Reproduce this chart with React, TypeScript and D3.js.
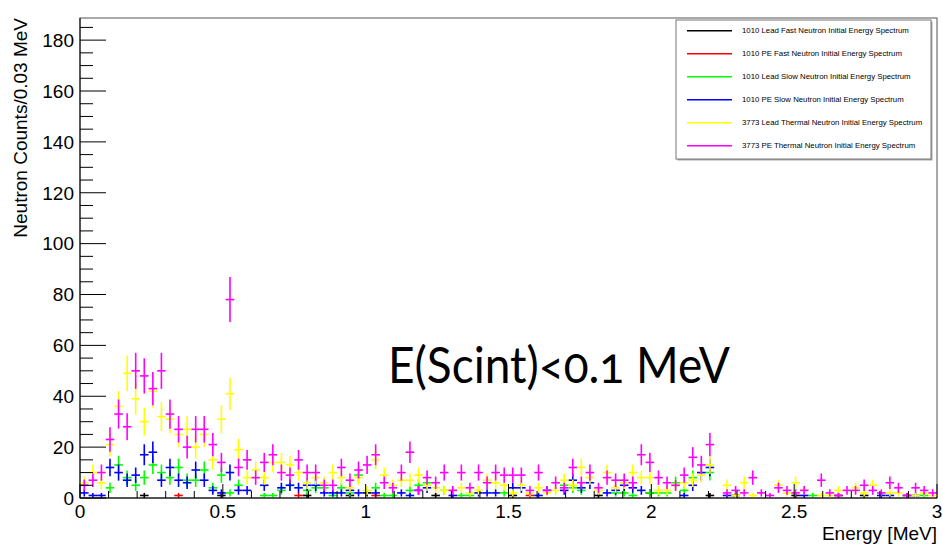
import React from "react";
import * as d3 from "d3";

const xRange = [0, 3];
const binWidth = 0.03;
const yMax = 188.7;

const xTicks = [0, 0.5, 1, 1.5, 2, 2.5, 3];
const xTickLabels = ["0", "0.5", "1", "1.5", "2", "2.5", "3"];
const yTicks = [0, 20, 40, 60, 80, 100, 120, 140, 160, 180];

const seriesNames = [
  "1010 Lead Fast Neutron Initial Energy Spectrum",
  "1010 PE Fast Neutron Initial Energy Spectrum",
  "1010 Lead Slow Neutron Initial Energy Spectrum",
  "1010 PE Slow Neutron Initial Energy Spectrum",
  "3773 Lead Thermal Neutron Initial Energy Spectrum",
  "3773 PE Thermal Neutron Initial Energy Spectrum",
];
const seriesColors = ["#000000", "#ff0000", "#00ff00", "#0000ff", "#ffff00", "#ff00ff"];

const leadFast = [
  0, 0, 0, 0, 0, 0, 0, 1, 0, 0,
  0, 0, 0, 0, 0, 0, 1, 0, 0, 0,
  0, 0, 0, 0, 0, 0, 1, 0, 0, 0,
  0, 1, 0, 2, 0, 0, 0, 0, 0, 0,
  0, 1, 0, 0, 0, 0, 0, 0, 0, 0,
  1, 0, 0, 0, 0, 0, 0, 0, 0, 0,
  1, 0, 0, 0, 0, 0, 2, 0, 0, 0,
  0, 0, 0, 1, 0, 0, 1, 0, 0, 0,
  0, 0, 0, 1, 0, 0, 0, 0, 1, 0,
  0, 1, 0, 0, 0, 0, 1, 0, 0, 0,
];
const peFast = [
  0, 0, 0, 0, 0, 0, 0, 0, 0, 0,
  0, 1, 0, 0, 0, 0, 0, 0, 0, 0,
  0, 0, 0, 0, 0, 1, 0, 0, 0, 0,
  0, 0, 0, 0, 1, 0, 0, 0, 0, 0,
  0, 0, 0, 0, 0, 0, 0, 0, 0, 0,
  0, 0, 1, 0, 0, 0, 0, 0, 0, 0,
  0, 0, 0, 0, 0, 0, 0, 0, 0, 0,
  0, 0, 0, 0, 0, 0, 0, 0, 0, 0,
  0, 0, 0, 0, 0, 0, 0, 0, 0, 0,
  0, 0, 0, 0, 0, 0, 0, 0, 0, 0,
];
const leadSlow = [
  0, 0, 0, 4, 13, 8, 5, 8, 13, 10,
  8, 12, 7, 7, 11, 4, 9, 2, 5, 0,
  0, 1, 1, 3, 5, 0, 3, 4, 4, 1,
  4, 2, 9, 0, 4, 1, 1, 0, 3, 5,
  6, 0, 3, 0, 1, 1, 0, 0, 0, 2,
  0, 0, 0, 0, 0, 0, 5, 4, 3, 0,
  0, 0, 2, 2, 1, 0, 2, 2, 2, 6,
  3, 8, 0, 10, 0, 0, 0, 0, 0, 0,
  0, 0, 0, 0, 0, 1, 0, 0, 0, 0,
  0, 0, 0, 0, 0, 0, 0, 0, 1, 0,
];
const peSlow = [
  2, 1, 1, 12, 10, 7, 9, 17, 18, 7,
  12, 7, 6, 11, 7, 3, 2, 10, 3, 3,
  0, 5, 0, 4, 5, 4, 5, 5, 2, 2,
  2, 3, 2, 0, 2, 0, 0, 2, 1, 3,
  4, 0, 0, 1, 0, 0, 2, 2, 2, 0,
  4, 4, 0, 1, 3, 0, 3, 7, 4, 6,
  0, 2, 3, 5, 4, 3, 0, 0, 0, 0,
  1, 5, 10, 12, 0, 1, 0, 0, 0, 0,
  0, 0, 0, 0, 1, 0, 0, 0, 0, 0,
  0, 0, 0, 1, 1, 0, 0, 1, 0, 0,
];
const leadThermal = [
  6, 10, 6, 21, 36, 49, 39, 30, 42, 32,
  31, 25, 27, 20, 25, 15, 31, 41, 19, 8,
  11, 8, 14, 14, 13, 10, 6, 8, 6, 10,
  8, 4, 8, 3, 15, 9, 5, 7, 7, 9,
  5, 4, 3, 3, 4, 2, 3, 7, 6, 5,
  2, 5, 2, 4, 2, 3, 7, 5, 12, 8,
  3, 10, 4, 6, 10, 8, 8, 3, 3, 5,
  6, 7, 9, 13, 0, 5, 1, 6, 1, 0,
  0, 5, 2, 6, 3, 0, 1, 1, 3, 0,
  4, 2, 5, 0, 2, 2, 0, 1, 2, 1,
];
const peThermal = [
  5, 7, 10, 23, 33, 28, 50, 48, 43, 50,
  33, 27, 20, 27, 27, 21, 14, 78, 12, 15,
  8, 14, 17, 10, 9, 15, 10, 10, 5, 5,
  12, 7, 11, 13, 17, 6, 4, 10, 18, 3,
  8, 6, 10, 3, 10, 4, 10, 6, 10, 9,
  9, 9, 3, 10, 3, 6, 4, 12, 6, 10,
  4, 8, 7, 7, 6, 17, 14, 8, 6, 5,
  9, 16, 13, 21, 0, 2, 3, 2, 8, 2,
  1, 4, 3, 2, 3, 0, 7, 2, 1, 3,
  3, 5, 3, 2, 6, 4, 1, 4, 3, 2,
];

const seriesData = [leadFast, peFast, leadSlow, peSlow, leadThermal, peThermal];

const W = 943;
const H = 548;
const L = 80, R = 937, T = 18, B = 498;

export default function App() {
  const x = d3.scaleLinear().domain(xRange).range([L, R]);
  const y = d3.scaleLinear().domain([0, yMax]).range([B, T]);
  const font = "'Liberation Sans', Arial, Helvetica, sans-serif";

  const xMinor = d3.range(0, 31).map((i) => i * 0.1);
  const yMinor = d3.range(0, 38).map((i) => i * 5);

  return (
    <svg width={W} height={H} style={{ position: "absolute", left: 0, top: 0, background: "#fff" }}>
      <defs>
        <clipPath id="plotclip">
          <rect x={L} y={T} width={R - L} height={B - T} />
        </clipPath>
      </defs>
      <rect x={0} y={0} width={W} height={H} fill="#fff" />
      {/* frame */}
      <rect x={L} y={T} width={R - L} height={B - T} fill="none" stroke="#555" strokeWidth={1} />

      {/* data */}
      <g clipPath="url(#plotclip)">
        {seriesData.map((arr, si) => (
          <g key={si} stroke={seriesColors[si]} strokeWidth={1.6} fill="none">
            {arr.map((v, i) => {
              if (v <= 0) return null;
              const x0 = x(i * binWidth);
              const x1 = x((i + 1) * binWidth);
              const xc = x((i + 0.5) * binWidth);
              const e = Math.sqrt(v);
              return (
                <g key={i}>
                  <line x1={x0} x2={x1} y1={y(v)} y2={y(v)} />
                  <line x1={xc} x2={xc} y1={y(v - e)} y2={y(v + e)} />
                </g>
              );
            })}
          </g>
        ))}
      </g>

      {/* axes */}
      <line x1={L} x2={L} y1={T} y2={B} stroke="#000" strokeWidth={1} />
      <line x1={L} x2={R} y1={B} y2={B} stroke="#000" strokeWidth={1} />
      {yMinor.map((v) => (
        <line key={"ym" + v} x1={L} x2={L + (v % 20 === 0 ? 26 : 13)} y1={y(v)} y2={y(v)} stroke="#000" strokeWidth={1} />
      ))}
      {xMinor.map((v, i) => (
        <line key={"xm" + i} x1={x(v)} x2={x(v)} y1={B} y2={B - (i % 5 === 0 ? 14 : 7)} stroke="#000" strokeWidth={1} />
      ))}
      {yTicks.map((v) => (
        <text key={"yl" + v} x={L - 6} y={y(v)} dy="0.36em" textAnchor="end" fontFamily={font} fontSize={19}>
          {v}
        </text>
      ))}
      {xTicks.map((v, i) => (
        <text key={"xl" + v} x={x(v)} y={B + 20} textAnchor="middle" fontFamily={font} fontSize={19}>
          {xTickLabels[i]}
        </text>
      ))}
      <text x={R} y={B + 42} textAnchor="end" fontFamily={font} fontSize={19}>
        Energy [MeV]
      </text>
      <text transform={`translate(27,${T}) rotate(-90)`} textAnchor="end" fontFamily={font} fontSize={19}>
        Neutron Counts/0.03 MeV
      </text>

      {/* annotation */}
      <text
        x={388}
        y={383}
        fontFamily="Lato, 'Open Sans', sans-serif"
        fontSize={50}
        textLength={342}
        lengthAdjust="spacingAndGlyphs"
        style={{ fontFeatureSettings: "'onum'" }}
      >
        E(Scint)&lt;0.1 MeV
      </text>

      {/* legend */}
      <rect x={677.5} y={21.5} width={255} height={139} fill="#000" opacity={0.35} />
      <rect x={676} y={20} width={255} height={139} fill="#fff" stroke="#777" strokeWidth={1} />
      {seriesNames.map((name, i) => {
        const ly = 30.7 + i * 23;
        return (
          <g key={"lg" + i}>
            <line x1={687} x2={732} y1={ly} y2={ly} stroke={seriesColors[i]} strokeWidth={1.6} />
            <text x={742} y={ly} dy="0.35em" fontFamily={font} fontSize={7.8}>
              {name}
            </text>
          </g>
        );
      })}
    </svg>
  );
}
